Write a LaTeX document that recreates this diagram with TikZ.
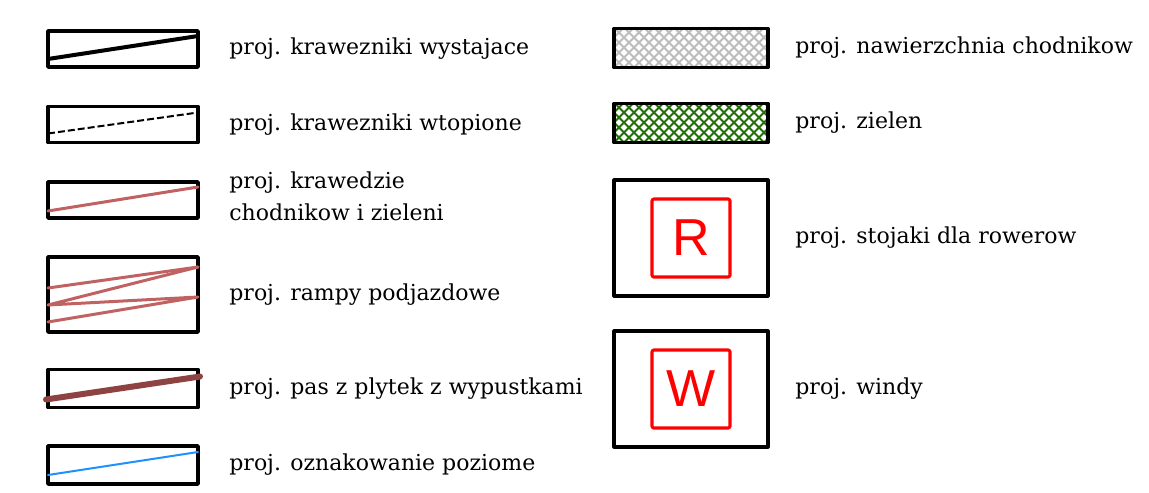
\documentclass[tikz,border=0pt]{standalone}
\usepackage{fontspec}
\setmainfont{DejaVu Serif}
\newfontfamily\signfont{Liberation Sans}
\usetikzlibrary{positioning}
\definecolor{edgered}{RGB}{193,98,98}
\definecolor{tilered}{RGB}{142,66,66}
\definecolor{markblue}{RGB}{30,144,255}
\definecolor{pavegray}{RGB}{188,188,188}
\definecolor{grassgreen}{RGB}{35,112,10}
\begin{document}
\begin{tikzpicture}[x=0.5pt, y=-0.5pt, line cap=round, line join=round]
\tikzset{
    symbox/.style={draw, line width=1.75pt, minimum width=75pt, minimum height=18pt, inner sep=0pt, outer sep=0pt},
    bigbox/.style={symbox, line width=1.6pt, minimum width=77pt, minimum height=58pt},
    hatchbox/.style={symbox, minimum width=77pt, minimum height=19.5pt,
        path picture={
            \foreach \d in {-30,-25,...,110} {
                \draw[#1, line width=0.9pt]
                    ([xshift=\d pt]path picture bounding box.south west) -- ++(30pt,30pt)
                    ([xshift=\d pt]path picture bounding box.south west) -- ++(-30pt,30pt);
            }
        }},
    signbox/.style={draw=red, line width=1.6pt, rounded corners=1pt, minimum size=39pt, inner sep=0pt,
        text=red, font=\signfont\fontsize{26}{26}\selectfont},
    legtext/.style={inner sep=0pt, font=\fontsize{11}{16}\selectfont, align=left},
    curbline/.style={line width=2pt},
    flushline/.style={line width=1pt, line cap=butt, dash pattern=on 3.5pt off 1.5pt},
    edgeline/.style={draw=edgered, line width=1.5pt},
    tileline/.style={draw=tilered, line width=3pt},
    markline/.style={draw=markblue, line width=1pt}
}
\useasboundingbox (0,0) rectangle (1149,492);

% left column
\node[symbox] (kw) at (123,49) {};
\draw[curbline] ([yshift=4pt]kw.south west) -- ([yshift=-2.5pt]kw.north east);
\node[legtext, right=15.5pt of kw] {proj. krawezniki wystajace};

\node[symbox] (kt) at (123,124.5) {};
\draw[flushline] ([yshift=4.5pt]kt.south west) -- ([yshift=-3pt]kt.north east);
\node[legtext, right=15.5pt of kt] {proj. krawezniki wtopione};

\node[symbox] (kc) at (123,200) {};
\draw[edgeline] ([yshift=3.5pt]kc.south west) -- ([yshift=-2.5pt]kc.north east);
\node[legtext, right=15.5pt of kc, yshift=2pt] {proj. krawedzie\\chodnikow i zieleni};

\node[symbox, minimum height=37.5pt] (rp) at (123,294.5) {};
\draw[edgeline] ([yshift=22pt]rp.south west) -- ([yshift=-5pt]rp.north east);
\draw[edgeline] ([yshift=-5pt]rp.north east) -- ([yshift=13.5pt]rp.south west)
    -- ([yshift=-20pt]rp.north east) -- ([yshift=5pt]rp.south west);
\node[legtext, right=15.5pt of rp] {proj. rampy podjazdowe};

\node[symbox, minimum height=19pt] (pw) at (123,388.5) {};
\draw[tileline] ([shift={(-1pt,4pt)}]pw.south west) -- ([shift={(1pt,-3.5pt)}]pw.north east);
\node[legtext, right=15.5pt of pw] {proj. pas z plytek z wypustkami};

\node[symbox, minimum height=19pt] (op) at (123,465) {};
\draw[markline] ([yshift=4.5pt]op.south west) -- ([yshift=-3pt]op.north east);
\node[legtext, right=15.5pt of op] {proj. oznakowanie poziome};

% right column
\node[hatchbox=pavegray] (nc) at (691,48) {};
\node[legtext, right=13.5pt of nc] {proj. nawierzchnia chodnikow};

\node[hatchbox=grassgreen] (zl) at (691,123) {};
\node[legtext, right=13.5pt of zl] {proj. zielen};

\node[bigbox] (sr) at (691,238) {};
\node[signbox] (sr-in) at (sr.center) {R};
\node[legtext, right=13.5pt of sr] {proj. stojaki dla rowerow};

\node[bigbox] (wd) at (691,389) {};
\node[signbox] (wd-in) at (wd.center) {W};
\node[legtext, right=13.5pt of wd] {proj. windy};
\end{tikzpicture}
\end{document}
